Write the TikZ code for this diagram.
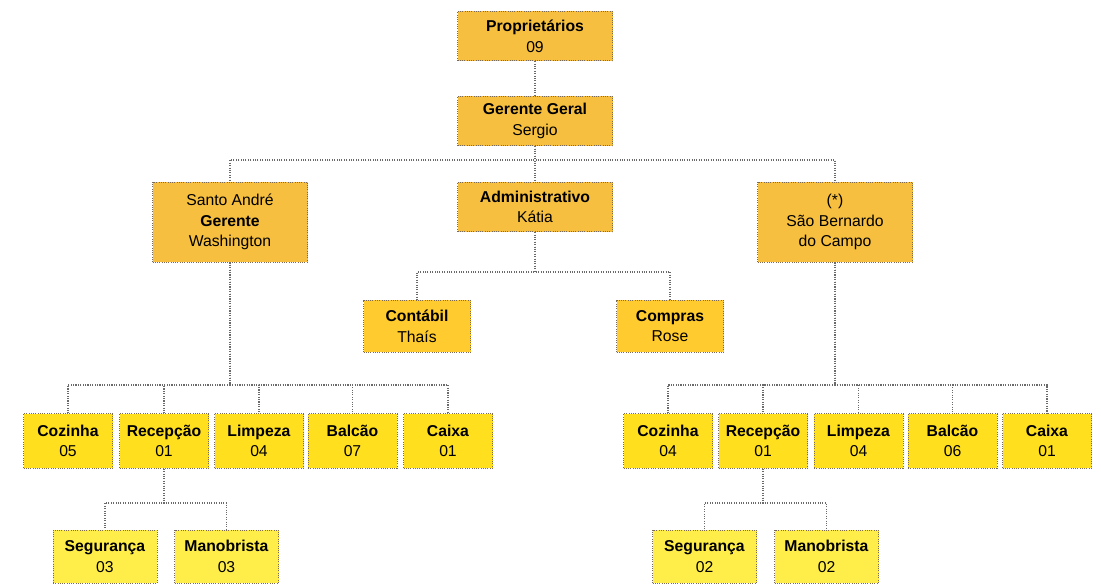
\documentclass[tikz,border=0pt]{standalone}
\usepackage{fontspec}
\setmainfont{Liberation Sans}
\definecolor{corange}{HTML}{F6BF3F}
\definecolor{cmid}{HTML}{FFCB2E}
\definecolor{cyel}{HTML}{FFDF1E}
\definecolor{clight}{HTML}{FFEE4A}
\definecolor{cline}{HTML}{6A6A6A}
\definecolor{cbord}{HTML}{7A6A55}
\begin{document}
\begin{tikzpicture}[x=0.75pt,y=-0.75pt,
  box/.style={draw=cbord, densely dotted, line width=0.7pt, align=center, inner sep=1pt,
    font=\fontsize{11.8}{15.5}\selectfont, text=black},
  topbox/.style={box, fill=corange, minimum width=116.25pt, minimum height=37pt},
  bigbox/.style={box, fill=corange, minimum width=116.25pt, minimum height=60pt},
  midbox/.style={box, fill=cmid, minimum width=80.25pt, minimum height=39pt},
  rowbox/.style={box, fill=cyel, minimum width=66.75pt, minimum height=41pt},
  lowbox/.style={box, fill=clight, minimum width=78pt, minimum height=39.75pt},
  conn/.style={draw=cline, densely dotted, line width=0.8pt}]
\path[use as bounding box, fill=white] (0,0) rectangle (1101,587);

\node[topbox] (prop) at (535,36) {\textbf{Proprietários}\\09};
\node[topbox] (ger) at (535,121) {\textbf{Gerente Geral}\\Sergio};
\node[bigbox] (sa) at (230,222) {Santo André\\\textbf{Gerente}\\Washington};
\node[topbox] (adm) at (535,207) {\textbf{Administrativo}\\Kátia};
\node[bigbox] (sb) at (835,222) {(*)\\São Bernardo\\do Campo};
\node[midbox] (cont) at (417,326) {\textbf{Contábil}\\Thaís};
\node[midbox] (comp) at (670,326) {\textbf{Compras}\\Rose};

\node[rowbox] (lcoz) at (68,441) {\textbf{Cozinha}\\05};
\node[rowbox] (lrec) at (164,441) {\textbf{Recepção}\\01};
\node[rowbox] (llim) at (259,441) {\textbf{Limpeza}\\04};
\node[rowbox] (lbal) at (352.5,441) {\textbf{Balcão}\\07};
\node[rowbox] (lcai) at (448,441) {\textbf{Caixa}\\01};

\node[rowbox] (rcoz) at (668,441) {\textbf{Cozinha}\\04};
\node[rowbox] (rrec) at (763,441) {\textbf{Recepção}\\01};
\node[rowbox] (rlim) at (858.5,441) {\textbf{Limpeza}\\04};
\node[rowbox] (rbal) at (952.5,441) {\textbf{Balcão}\\06};
\node[rowbox] (rcai) at (1047,441) {\textbf{Caixa}\\01};

\node[lowbox] (lseg) at (105,556.5) {\textbf{Segurança}\\03};
\node[lowbox] (lman) at (226.5,556.5) {\textbf{Manobrista}\\03};
\node[lowbox] (rseg) at (704.5,556.5) {\textbf{Segurança}\\02};
\node[lowbox] (rman) at (826.5,556.5) {\textbf{Manobrista}\\02};

\draw[conn] (prop) -- (ger);
\foreach \c in {sa,adm,sb}
  \draw[conn] (ger.south) -- (ger.south |- 0,160) -| (\c.north);
\foreach \c in {cont,comp}
  \draw[conn] (adm.south) -- (adm.south |- 0,272) -| (\c.north);
\foreach \c in {lcoz,lrec,llim,lbal,lcai}
  \draw[conn] (sa.south) -- (sa.south |- 0,385) -| (\c.north);
\foreach \c in {rcoz,rrec,rlim,rbal,rcai}
  \draw[conn] (sb.south) -- (sb.south |- 0,385) -| (\c.north);
\foreach \c in {lseg,lman}
  \draw[conn] (lrec.south) -- (lrec.south |- 0,503) -| (\c.north);
\foreach \c in {rseg,rman}
  \draw[conn] (rrec.south) -- (rrec.south |- 0,503) -| (\c.north);
\end{tikzpicture}
\end{document}
